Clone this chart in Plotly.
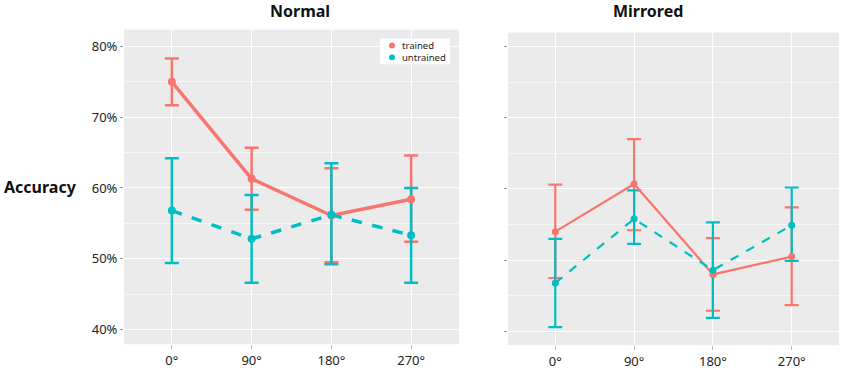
import plotly.graph_objects as go

angles = ["0°", "90°", "180°", "270°"]

# Normal panel (accuracy %, upper / lower error bar ends)
normal_trained = [75.0, 61.3, 56.1, 58.4]
normal_trained_hi = [78.3, 65.7, 62.8, 64.6]
normal_trained_lo = [71.7, 56.9, 49.5, 52.4]
normal_untrained = [56.8, 52.8, 56.2, 53.3]
normal_untrained_hi = [64.2, 59.0, 63.5, 60.0]
normal_untrained_lo = [49.4, 46.6, 49.2, 46.6]

# Mirrored panel
mirr_trained = [54.0, 60.7, 48.0, 50.5]
mirr_trained_hi = [60.6, 67.0, 53.1, 57.4]
mirr_trained_lo = [47.5, 54.2, 42.9, 43.7]
mirr_untrained = [46.8, 55.8, 48.6, 54.9]
mirr_untrained_hi = [53.0, 59.8, 55.3, 60.2]
mirr_untrained_lo = [40.6, 52.3, 41.9, 49.9]

y_ticks = [40, 50, 60, 70, 80]
y_ticklabels = ["40%", "50%", "60%", "70%", "80%"]
legend_names = ["trained", "untrained"]

RED = "#F8766D"
TEAL = "#00BFC4"
FONT = "Noto Sans"
W, H = 850, 370

fig = go.Figure()

panels = [
    ("x", "y", 3.5, 8, 2.5, [
        (normal_trained, normal_trained_hi, normal_trained_lo, RED, "solid"),
        (normal_untrained, normal_untrained_hi, normal_untrained_lo, TEAL, "dash")]),
    ("x2", "y2", 2.2, 7, 2.2, [
        (mirr_trained, mirr_trained_hi, mirr_trained_lo, RED, "solid"),
        (mirr_untrained, mirr_untrained_hi, mirr_untrained_lo, TEAL, "dash")]),
]

for xa, ya, lw, ms, ew, series in panels:
    # layer 1: error bars
    for vals, hi, lo, color, dash in series:
        fig.add_trace(go.Scatter(
            x=angles, y=vals, xaxis=xa, yaxis=ya, mode="markers",
            marker=dict(color=color, size=1, opacity=0),
            error_y=dict(type="data", symmetric=False,
                         array=[h - v for h, v in zip(hi, vals)],
                         arrayminus=[v - l for v, l in zip(vals, lo)],
                         color=color, thickness=ew, width=7),
            showlegend=False, hoverinfo="skip"))
    # layer 2: lines
    for vals, hi, lo, color, dash in series:
        fig.add_trace(go.Scatter(
            x=angles, y=vals, xaxis=xa, yaxis=ya, mode="lines",
            line=dict(color=color, width=lw, dash=dash),
            showlegend=False, hoverinfo="skip"))
    # layer 3: points
    for vals, hi, lo, color, dash in series:
        fig.add_trace(go.Scatter(
            x=angles, y=vals, xaxis=xa, yaxis=ya, mode="markers",
            marker=dict(color=color, size=ms),
            showlegend=False, hoverinfo="skip"))

xaxis_common = dict(type="category", range=[-0.6, 3.6], showgrid=True, gridcolor="white",
                    gridwidth=1.2, zeroline=False, ticks="outside", ticklen=4, tickcolor="#BBB",
                    tickfont=dict(family=FONT, size=13, color="#222"), showline=False)
yaxis_common = dict(tickvals=y_ticks, showgrid=True, gridcolor="white", gridwidth=1.2,
                    zeroline=False, ticks="outside", ticklen=3, tickcolor="#999",
                    minor=dict(dtick=5, tick0=0, showgrid=True, gridcolor="#F7F7F7", gridwidth=0.6),
                    tickfont=dict(family=FONT, size=13, color="#222"), showline=False)


def px(x):
    return x / W


def py(y):
    return (H - y) / H


# manual legend (box, keys, labels) in the Normal panel
legend_shapes = [dict(type="rect", xref="paper", yref="paper",
                      x0=px(380), x1=px(450), y0=py(65), y1=py(39),
                      fillcolor="white", line=dict(width=0))]
for i, color in enumerate([RED, TEAL]):
    cy = 46 + 12 * i
    legend_shapes.append(dict(type="circle", xref="paper", yref="paper",
                              x0=px(389), x1=px(395), y0=py(cy + 3), y1=py(cy - 3),
                              fillcolor=color, line=dict(width=0)))
legend_annots = [dict(text="<br>".join(legend_names), x=px(400), y=py(52), xref="paper",
                      yref="paper", xanchor="left", yanchor="middle", align="left",
                      showarrow=False, font=dict(family=FONT, size=9.5, color="#222"))]

fig.update_layout(
    width=W, height=H,
    margin=dict(l=0, r=0, t=0, b=0),
    paper_bgcolor="white", plot_bgcolor="#EBEBEB",
    showlegend=False,
    xaxis=dict(xaxis_common, domain=[px(124), px(459)], anchor="y"),
    yaxis=dict(yaxis_common, domain=[py(348), py(30)], anchor="x",
               range=[37.9, 82.38], ticktext=y_ticklabels),
    xaxis2=dict(xaxis_common, domain=[px(508), px(839)], anchor="y2"),
    yaxis2=dict(yaxis_common, domain=[py(349), py(33)], anchor="x2",
                range=[38.06, 81.94], ticktext=["", "", "", "", ""]),
    shapes=legend_shapes,
    annotations=[
        dict(text="<b>Normal</b>", x=px(300), y=py(11), xref="paper", yref="paper",
             showarrow=False, font=dict(family=FONT, size=16, color="#111"), yanchor="middle"),
        dict(text="<b>Mirrored</b>", x=px(685), y=py(11), xref="paper", yref="paper",
             showarrow=False, font=dict(family=FONT, size=16, color="#111"), yanchor="middle"),
        dict(text="<b>Accuracy</b>", x=px(2), y=py(189), xref="paper", yref="paper",
             xanchor="left", showarrow=False, font=dict(family=FONT, size=16, color="#111"),
             yanchor="middle"),
    ] + legend_annots,
)

fig.write_html("out.html", config={"displayModeBar": False})

# remove the browser's default body margin so the figure sits at the page origin
with open("out.html", encoding="utf-8") as f:
    html = f.read()
html = html.replace("<body>", '<body style="margin:0;padding:0;overflow:hidden">', 1)
with open("out.html", "w", encoding="utf-8") as f:
    f.write(html)
